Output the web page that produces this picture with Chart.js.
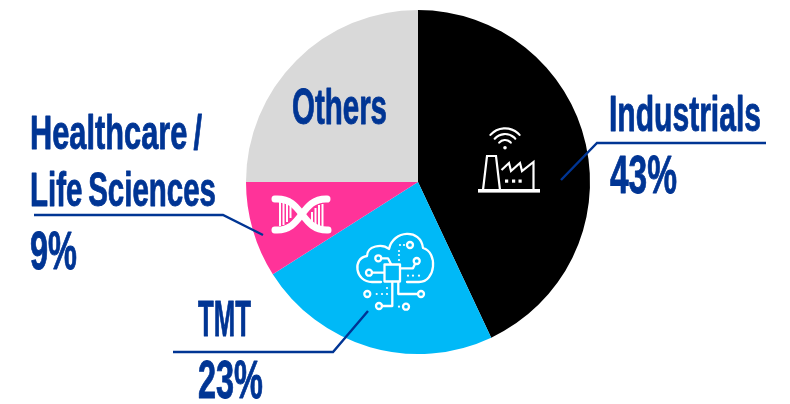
<!DOCTYPE html>
<html>
<head>
<meta charset="utf-8">
<style>
  html, body { margin: 0; padding: 0; background: #fff; }
  #wrap { width: 790px; height: 404px; }
</style>
<script src="https://cdn.jsdelivr.net/npm/chart.js@4/dist/chart.umd.min.js"></script>
</head>
<body>
<div id="wrap"><canvas id="pie" width="790" height="404"></canvas></div>
<script>
const sectors = ['Industrials', 'TMT', 'Healthcare / Life Sciences', 'Others'];
const shares = [43, 23, 9, 25];
const sectorColors = ['#000000', '#00b9f7', '#ff3399', '#d9d9d9'];

const INK = '#003594';
const FONT = '"Liberation Sans Narrow", "Liberation Sans", sans-serif';

// text run: string, left edge, baseline, cap height, target width
const captions = [
  ['Industrials', 609, 130.5, 33, 152],
  [shares[0] + '%', 610, 192.5, 35, 67],
  ['Healthcare /', 30, 148.5, 32, 172],
  ['Life Sciences', 30, 205.5, 32, 186],
  [shares[2] + '%', 30, 268.5, 35, 47],
  ['TMT', 198, 335.5, 33, 53],
  [shares[1] + '%', 198, 397.5, 35, 65],
  ['Others', 292, 123.5, 33, 95],
];

const leaders = [
  [[561, 180], [597, 143], [766, 143]],
  [[263, 235], [223, 215], [34, 215]],
  [[368, 311], [333, 352], [173, 352]],
];

function fitText(ctx, text, x, base, cap, width) {
  const size = cap / 0.66;
  ctx.save();
  ctx.font = 'bold ' + size + 'px ' + FONT;
  ctx.textBaseline = 'alphabetic';
  ctx.wordSpacing = '-4px';
  ctx.fillStyle = INK;
  ctx.strokeStyle = INK;
  ctx.lineWidth = 0.9;
  ctx.lineJoin = 'round';
  const w = ctx.measureText(text).width;
  ctx.translate(x, base);
  ctx.scale(width / w, 1);
  ctx.fillText(text, 0, 0);
  ctx.strokeText(text, 0, 0);
  ctx.restore();
}

function strokePath(ctx, pts) {
  ctx.beginPath();
  pts.forEach((p, i) => i ? ctx.lineTo(p[0], p[1]) : ctx.moveTo(p[0], p[1]));
  ctx.stroke();
}

function dot(ctx, x, y, r) {
  ctx.beginPath();
  ctx.arc(x, y, r, 0, Math.PI * 2);
  ctx.fill();
}

function ring(ctx, x, y, r) {
  ctx.beginPath();
  ctx.arc(x, y, r, 0, Math.PI * 2);
  ctx.stroke();
}

function factoryIcon(ctx) {
  ctx.lineWidth = 2.2;
  ctx.lineCap = 'round';
  // wifi arcs
  const up = -Math.PI / 2, spread = 0.85;
  [19.4, 13.7, 7.7].forEach(r => {
    ctx.beginPath();
    ctx.arc(505, 147.7, r, up - spread, up + spread);
    ctx.stroke();
  });
  dot(ctx, 505, 147.7, 1.8);
  ctx.lineCap = 'butt';
  // ground
  ctx.fillRect(478, 189, 62, 3.6);
  // chimney
  strokePath(ctx, [[483, 190], [487, 156], [496, 156], [500, 190]]);
  // sawtooth roof and end wall
  strokePath(ctx, [[501.5, 170], [509, 163], [511, 171], [520, 163], [522, 171], [533.5, 162], [533.5, 190]]);
  [505, 512, 518.5].forEach(x => ctx.fillRect(x, 179.5, 3.2, 3.2));
}

function dnaIcon(ctx) {
  // rungs sit under the two strands
  ctx.lineWidth = 2;
  const left = [[280, 226], [283.5, 225], [287, 222], [290.5, 218]];
  const right = [[312, 212], [315.5, 208], [319, 205], [322.5, 204]];
  left.forEach(r => strokePath(ctx, [[r[0], 201], [r[0], r[1]]]));
  right.forEach(r => strokePath(ctx, [[r[0], r[1]], [r[0], 228]]));
  ctx.lineCap = 'round';
  ctx.lineWidth = 7;
  ctx.beginPath();
  ctx.moveTo(275, 199);
  ctx.bezierCurveTo(304, 197, 300, 231, 328, 230);
  ctx.stroke();
  ctx.beginPath();
  ctx.moveTo(275, 230);
  ctx.bezierCurveTo(303, 232, 300, 198, 327, 199);
  ctx.stroke();
  ctx.lineCap = 'butt';
}

function cloudIcon(ctx) {
  ctx.lineWidth = 2.3;
  ctx.lineCap = 'round';
  ctx.lineJoin = 'round';
  // outline
  ctx.beginPath();
  ctx.moveTo(381, 282);
  ctx.lineTo(372, 282);
  ctx.bezierCurveTo(355, 282, 352, 258, 367, 256);
  ctx.bezierCurveTo(367, 246, 382, 243, 389, 249);
  ctx.bezierCurveTo(393, 230, 421, 228, 423, 248);
  ctx.bezierCurveTo(438, 252, 436, 282, 419, 282);
  ctx.lineTo(407, 282);
  ctx.stroke();
  // chip
  ctx.strokeRect(384.5, 264.5, 15.5, 17);
  // traces
  strokePath(ctx, [[372, 272.7], [384, 272.7]]);
  strokePath(ctx, [[381, 258.3], [388, 258.3], [391, 264]]);
  strokePath(ctx, [[415, 264], [413, 268.3], [400, 268.3]]);
  strokePath(ctx, [[398.3, 282], [398.3, 294], [418, 294]]);
  strokePath(ctx, [[392.3, 282], [392.3, 306], [382, 306]]);
  [[369, 272.7], [378.3, 258.3], [416.7, 261], [410, 245], [367.3, 294], [421, 294], [379, 306], [406, 306.7]].forEach(c => ring(ctx, c[0], c[1], 3));
  [[400, 245], [404, 245], [399, 251], [399, 255], [399, 260], [376.7, 294], [382, 294], [387, 294], [387, 288], [399, 306.7], [408, 275.7], [413, 275.7], [419, 275.7]].forEach(c => dot(ctx, c[0], c[1], 1.1));
}

const overlayPlugin = {
  id: 'overlay',
  afterDraw(chart) {
    const ctx = chart.ctx;
    ctx.save();
    ctx.strokeStyle = '#fff';
    ctx.fillStyle = '#fff';
    factoryIcon(ctx);
    dnaIcon(ctx);
    cloudIcon(ctx);
    ctx.strokeStyle = INK;
    ctx.lineWidth = 2.4;
    ctx.lineCap = 'butt';
    ctx.lineJoin = 'miter';
    leaders.forEach(pts => strokePath(ctx, pts));
    ctx.restore();
    captions.forEach(c => fitText(ctx, c[0], c[1], c[2], c[3], c[4]));
  }
};

new Chart(document.getElementById('pie').getContext('2d'), {
  type: 'pie',
  data: {
    labels: sectors,
    datasets: [{
      data: shares,
      backgroundColor: sectorColors,
      borderWidth: 0
    }]
  },
  options: {
    responsive: false,
    animation: false,
    layout: { padding: { left: 246, right: 200, top: 10, bottom: 50 } },
    plugins: { legend: { display: false }, tooltip: { enabled: false } }
  },
  plugins: [overlayPlugin]
});
</script>
</body>
</html>
